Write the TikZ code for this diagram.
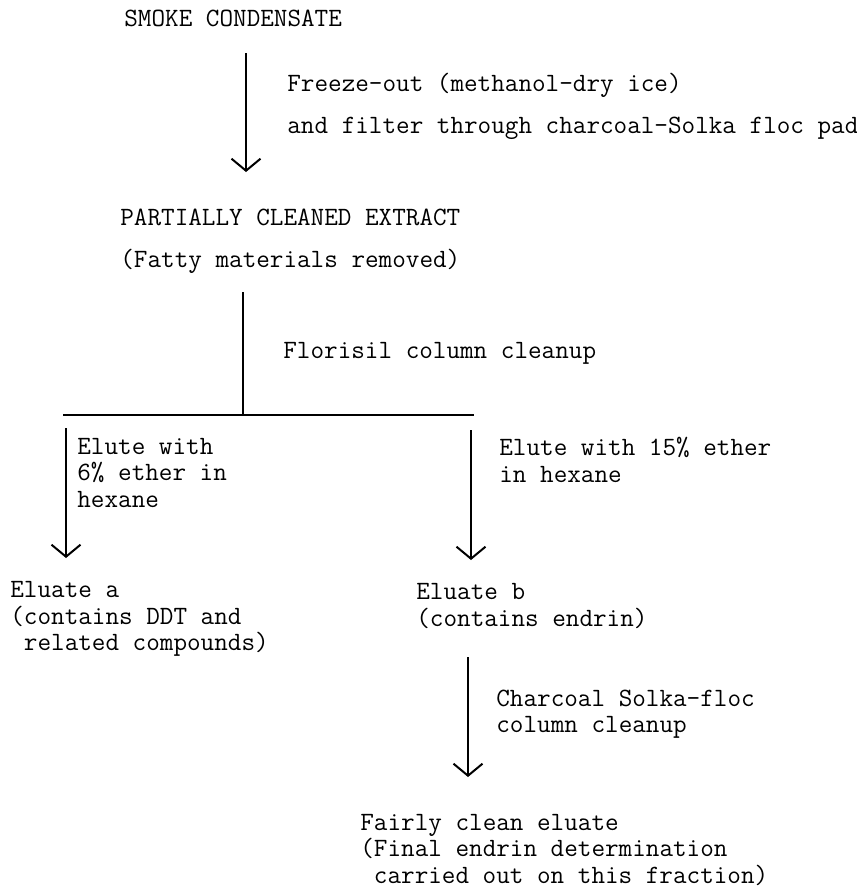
\documentclass[tikz,border=0pt]{standalone}
\usetikzlibrary{arrows.meta}

\tikzset{
  lbl/.style={font=\ttfamily\fontsize{13.2}{13.25}\selectfont, inner sep=0pt, align=left, anchor=west},
  flow/.style={line width=1pt, -{Straight Barb[length=6pt,width=14.5pt,line width=1pt]}},
  bar/.style={line width=1pt}
}

\begin{document}
\begin{tikzpicture}[x=0.5pt,y=-0.5pt]
  \useasboundingbox (0,0) rectangle (857,890);
  %Define nodes
  \node[lbl] (smoke)    at (124,18)  {SMOKE CONDENSATE};
  \node[lbl] (freeze)   at (287,106) {Freeze-out (methanol-dry ice)\\[7.75pt]and filter through charcoal-Solka floc pad};
  \node[lbl] (partial)  at (120,241) {PARTIALLY CLEANED EXTRACT\\[7.75pt](Fatty materials removed)};
  \node[lbl] (florisil) at (283,353) {Florisil column cleanup};
  \node[lbl] (elutea)   at (77,473)  {Elute with\\6\% ether in\\hexane};
  \node[lbl] (eluteb)   at (499,460) {Elute with 15\% ether\\in hexane};
  \node[lbl] (eluatea)  at (10,619)  {Eluate a\\(contains DDT and\\\phantom{(}related compounds)};
  \node[lbl] (eluateb)  at (416,606) {Eluate b\\(contains endrin)};
  \node[lbl] (charcoal) at (496,714) {Charcoal Solka-floc\\column cleanup};
  \node[lbl] (fairly)   at (360,850) {Fairly clean eluate\\(Final endrin determination\\\phantom{(}carried out on this fraction)};

  % Arrow ends
  \coordinate (s1) at (246,53);  \coordinate (e1) at (246,172);
  \coordinate (s2) at (243,292); \coordinate (e2) at (243,415);
  \coordinate (bl) at (63,415);  \coordinate (br) at (474,415);
  \coordinate (sa) at (66,428);  \coordinate (ea) at (66,558);
  \coordinate (sb) at (471,430); \coordinate (eb) at (471,560);
  \coordinate (s3) at (468,657); \coordinate (e3) at (468,777);

  % Connect the nodes
  \draw[flow] (s1) -- (e1);
  \draw[bar] (s2) -- (e2);
  \draw[bar] (bl) -- (br);
  \draw[flow] (sa) -- (ea);
  \draw[flow] (sb) -- (eb);
  \draw[flow] (s3) -- (e3);
\end{tikzpicture}
\end{document}
